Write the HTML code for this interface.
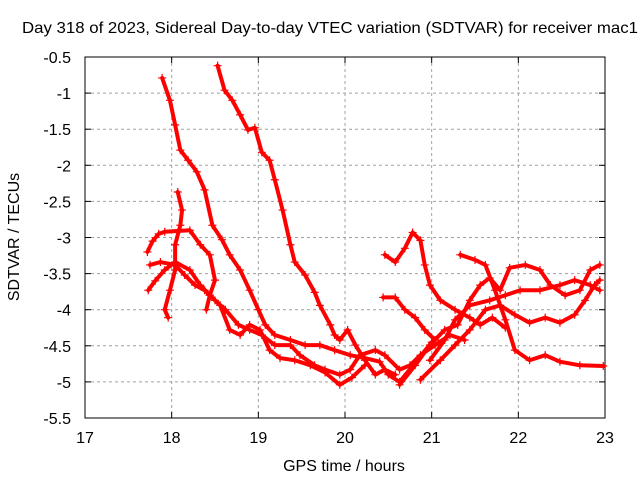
<!DOCTYPE html>
<html><head><meta charset="utf-8"><style>
body{margin:0;background:#fff}
svg text{font-family:"Liberation Sans",sans-serif;font-size:16px;fill:#000}
</style></head><body>
<svg id="chart" width="640" height="480" viewBox="0 0 640 480" xmlns="http://www.w3.org/2000/svg">
<rect width="640" height="480" fill="#fff"/>
<text x="22" y="33" textLength="616" lengthAdjust="spacingAndGlyphs">Day 318 of 2023, Sidereal Day-to-day VTEC variation (SDTVAR) for receiver mac1</text>
<g id="grid"></g><g id="axes"></g><g id="marks"></g>
<text x="344" y="471" text-anchor="middle">GPS time / hours</text>
<text transform="translate(19,237) rotate(-90)" text-anchor="middle">SDTVAR / TECUs</text>
</svg>
<script>
const xTicks=[17,18,19,20,21,22,23];
const yTicks=[-0.5,-1,-1.5,-2,-2.5,-3,-3.5,-4,-4.5,-5,-5.5];
const trackA_t=[17.89,17.98,18.04,18.1,18.19,18.29,18.38,18.47,18.58,18.67,18.79,18.9,19.0,19.08,19.19,19.37,19.54,19.71,19.88,20.06,20.23,20.4,20.5,20.63,20.8,21.0];
const trackA_v=[-0.79,-1.1,-1.44,-1.79,-1.93,-2.09,-2.34,-2.83,-3.03,-3.24,-3.45,-3.73,-4.0,-4.21,-4.35,-4.42,-4.49,-4.49,-4.56,-4.63,-4.67,-4.72,-4.9,-5.0,-4.75,-4.45];
const trackB_t=[18.53,18.61,18.7,18.79,18.88,18.96,19.04,19.13,19.19,19.28,19.37,19.42,19.54,19.65,19.71,19.83,19.88,19.94,20.03,20.12,20.23,20.35,20.46,20.58];
const trackB_v=[-0.62,-0.96,-1.1,-1.3,-1.51,-1.48,-1.82,-1.93,-2.2,-2.62,-3.1,-3.34,-3.52,-3.76,-3.94,-4.21,-4.35,-4.42,-4.28,-4.49,-4.7,-4.9,-4.83,-4.9];
const trackC_t=[17.75,17.87,18.04,18.15,18.27,18.38,18.5,18.62,18.77,18.9,19.04,19.19,19.37,19.48,19.65,19.77,19.94,20.06,20.17,20.35,20.46,20.63,20.75,20.87,21.04,21.21,21.38];
const trackC_v=[-3.38,-3.34,-3.38,-3.52,-3.66,-3.73,-3.87,-4.0,-4.21,-4.28,-4.35,-4.49,-4.49,-4.63,-4.77,-4.83,-4.9,-4.83,-4.63,-4.56,-4.63,-4.83,-4.77,-4.63,-4.49,-4.35,-4.42];
const trackD_t=[17.73,17.81,17.92,18.04,18.21,18.33,18.44,18.56,18.67,18.79,18.9,19.02,19.13,19.25,19.42,19.6,19.77,19.94,20.08,20.23];
const trackD_v=[-3.73,-3.6,-3.45,-3.34,-3.45,-3.66,-3.8,-3.94,-4.28,-4.35,-4.21,-4.28,-4.56,-4.67,-4.7,-4.77,-4.87,-5.04,-4.94,-4.77];
const trackE_t=[18.07,18.12,18.1,18.04,18.04,17.98,17.92,17.96];
const trackE_v=[-2.37,-2.62,-2.83,-3.1,-3.45,-3.73,-4.0,-4.11];
const trackE2_t=[17.72,17.78,17.85,17.92,18.21,18.33,18.44,18.5,18.44,18.4];
const trackE2_v=[-3.2,-3.05,-2.95,-2.92,-2.9,-3.1,-3.24,-3.59,-3.8,-4.0];
const trackF_t=[20.46,20.58,20.69,20.78,20.87,20.92,20.98,21.1,21.27,21.44,21.56,21.7,21.85];
const trackF_v=[-3.24,-3.34,-3.15,-2.93,-3.04,-3.38,-3.66,-3.87,-4.0,-4.11,-4.21,-4.11,-4.25];
const trackG_t=[20.44,20.58,20.69,20.81,20.92,21.04];
const trackG_v=[-3.83,-3.83,-4.0,-4.11,-4.28,-4.42];
const trackH_t=[21.33,21.5,21.62,21.73,21.85,21.96,22.13,22.31,22.48,22.71,22.98];
const trackH_v=[-3.24,-3.31,-3.38,-3.73,-4.14,-4.56,-4.7,-4.63,-4.72,-4.77,-4.78];
const trackI_t=[20.63,20.81,20.98,21.15,21.3,21.44,21.56,21.67,21.79,21.9,22.08,22.25,22.37,22.54,22.71,22.83,22.94];
const trackI_v=[-5.04,-4.77,-4.49,-4.28,-4.21,-3.87,-3.66,-3.56,-3.73,-3.42,-3.38,-3.45,-3.66,-3.8,-3.73,-3.45,-3.38];
const trackJ_t=[20.98,21.15,21.27,21.44,21.67,21.85,22.02,22.25,22.48,22.65,22.83,22.94];
const trackJ_v=[-4.7,-4.42,-4.14,-3.94,-3.87,-3.8,-3.73,-3.73,-3.66,-3.59,-3.66,-3.73];
const trackK_t=[20.87,21.1,21.27,21.44,21.62,21.79,21.96,22.13,22.31,22.48,22.65,22.77,22.88,22.94];
const trackK_v=[-4.97,-4.7,-4.49,-4.28,-4.0,-3.94,-4.07,-4.18,-4.11,-4.18,-4.07,-3.87,-3.66,-3.59];
const tracks=[[trackA_t,trackA_v],[trackB_t,trackB_v],[trackC_t,trackC_v],[trackD_t,trackD_v],[trackE_t,trackE_v],[trackE2_t,trackE2_v],[trackF_t,trackF_v],[trackG_t,trackG_v],[trackH_t,trackH_v],[trackI_t,trackI_v],[trackJ_t,trackJ_v],[trackK_t,trackK_v]];

const X0=85,X1=605,Y0=57,Y1=418;
const xs=t=>X0+(t-17)/6*(X1-X0);
const ys=v=>Y0+(-0.5-v)/5*(Y1-Y0);
const NS='http://www.w3.org/2000/svg';
function mk(tag,attrs,parent){const e=document.createElementNS(NS,tag);for(const k in attrs)e.setAttribute(k,attrs[k]);parent.appendChild(e);return e;}
const grid=document.getElementById('grid'),axes=document.getElementById('axes'),marks=document.getElementById('marks');
xTicks.forEach(t=>{const x=xs(t);
 if(t>17&&t<23){const g=mk('line',{x1:x,x2:x,y1:Y0,y2:Y1,stroke:'#a0a0a0','stroke-dasharray':'3,3'},grid);
 
 }
 mk('line',{x1:x,x2:x,y1:Y1,y2:Y1-6,stroke:'#000'},axes);
 mk('line',{x1:x,x2:x,y1:Y0,y2:Y0+6,stroke:'#000'},axes);
 const l=mk('text',{x:x,y:443,'text-anchor':'middle'},axes);l.textContent=t;
 
 
});
yTicks.forEach(v=>{const y=ys(v);
 if(v<-0.5&&v>-5.5){const g=mk('line',{x1:X0,x2:X1,y1:y,y2:y,stroke:'#a0a0a0','stroke-dasharray':'3,3'},grid);
 
 }
 mk('line',{x1:X0,x2:X0+6,y1:y,y2:y,stroke:'#000'},axes);
 mk('line',{x1:X1,x2:X1-6,y1:y,y2:y,stroke:'#000'},axes);
 const l=mk('text',{x:X0-14,y:y+6,'text-anchor':'end'},axes);l.textContent=v;
 
 
});
const fr=mk('rect',{x:X0,y:Y0,width:X1-X0,height:Y1-Y0,fill:'none',stroke:'#000'},axes);


tracks.forEach(([T,V],i)=>{
 const g=mk('g',{},marks);
 
 
 const pts=T.map((t,j)=>xs(t)+','+ys(V[j])).join(' ');
 mk('polyline',{points:pts,fill:'none',stroke:'#f00','stroke-width':4,'stroke-linejoin':'round','stroke-linecap':'round'},g);
 T.forEach((t,j)=>{const x=xs(t),y=ys(V[j]);
  const p=mk('path',{d:`M${x-4},${y}H${x+4}M${x},${y-4}V${y+4}`,stroke:'#f00','stroke-width':1.2},g);
  
  
 });
});
</script>
</body></html>
